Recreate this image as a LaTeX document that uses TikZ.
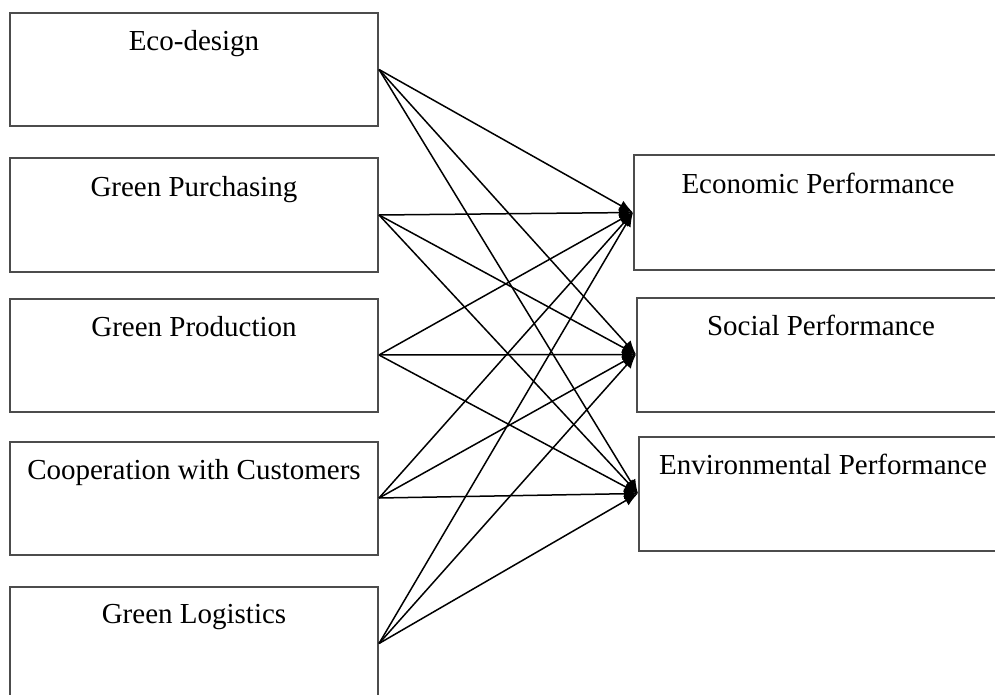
\documentclass[tikz,border=0pt]{standalone}
\usepackage{fontspec}
\setmainfont{Liberation Serif}
\usetikzlibrary{positioning,arrows.meta}

\tikzset{
  practice/.style={draw=black!70, line width=1pt, minimum width=184pt, minimum height=56.5pt, inner sep=0pt},
  result/.style={practice, minimum height=57pt},
  boxtitle/.style={inner sep=0pt, font=\fontsize{14.5}{17}\selectfont},
  link/.style={line width=0.75pt, -{Latex[length=7pt,width=5.5pt]}}
}

\begin{document}
\begin{tikzpicture}[x=0.5pt,y=-0.5pt]
\clip (0,0) rectangle (995,695);
% green practices on the left
\node[practice] (eco) at (194,69.5) {};
\node[practice] (purch) at (194,215) {};
\node[practice] (prod) at (194,355) {};
\node[practice] (coop) at (194,498) {};
\node[practice] (logi) at (194,643.5) {};
% performance on the right
\node[result] (econ) at (818,212.5) {};
\node[result] (soc) at (821,354.5) {};
\node[result] (env) at (823,493.5) {};

\node[boxtitle, below=9pt of eco.north] {Eco-design};
\node[boxtitle, below=9pt of purch.north] {Green Purchasing};
\node[boxtitle, below=9pt of prod.north] {Green Production};
\node[boxtitle, below=9pt of coop.north] {Cooperation with Customers};
\node[boxtitle, below=9pt of logi.north] {Green Logistics};
\node[boxtitle, below=9pt of econ.north] {Economic Performance};
\node[boxtitle, below=9pt of soc.north] {Social Performance};
\node[boxtitle, below=9pt of env.north] {Environmental Performance};

% every practice points to every performance
\foreach \a in {eco,purch,prod,coop,logi}
  \foreach \b in {econ,soc,env}
    \draw[link] (\a.east) -- (\b.west);
\end{tikzpicture}
\end{document}
